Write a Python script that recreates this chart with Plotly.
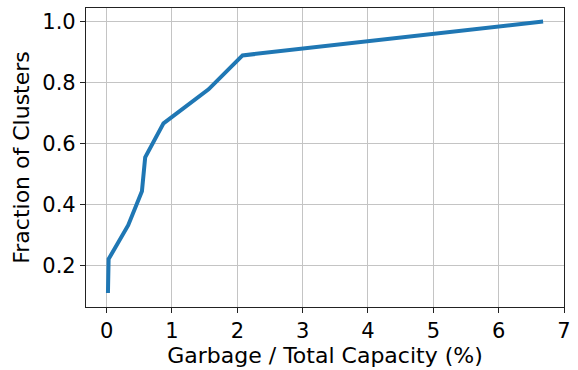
import plotly.graph_objects as go

garbage_pct = [0.02, 0.03, 0.33, 0.54, 0.59, 0.87, 1.56, 2.08, 6.68]
fraction = [1/9, 2/9, 3/9, 4/9, 5/9, 6/9, 7/9, 8/9, 1.0]
x_ticks = [0, 1, 2, 3, 4, 5, 6, 7]
y_ticks = [0.2, 0.4, 0.6, 0.8, 1.0]
y_tick_labels = ["0.2", "0.4", "0.6", "0.8", "1.0"]

fig = go.Figure()
fig.add_trace(go.Scatter(x=garbage_pct, y=fraction, mode="lines",
                         line=dict(color="#1f77b4", width=4)))

font = dict(family="DejaVu Sans", size=21, color="black")
tfont = dict(family="DejaVu Sans", size=22, color="black")
fig.update_layout(
    width=578, height=370,
    margin=dict(l=86, r=7, t=8, b=58),
    paper_bgcolor="white", plot_bgcolor="white",
    showlegend=False,
    font=font,
)
fig.update_xaxes(
    range=[-0.316, 7.0], tickvals=x_ticks,
    showgrid=True, gridcolor="#c4c4c4", gridwidth=1,
    showline=True, linecolor="#222", linewidth=1.2, mirror=True,
    ticks="outside", ticklen=5, tickcolor="#222", tickwidth=1,
    zeroline=False, tickfont=font,
    title=dict(text="Garbage / Total Capacity (%)", font=tfont, standoff=4),
)
fig.update_yaxes(
    range=[0.0655, 1.044], tickvals=y_ticks, ticktext=y_tick_labels,
    showgrid=True, gridcolor="#c4c4c4", gridwidth=1,
    showline=True, linecolor="#222", linewidth=1.2, mirror=True,
    ticks="outside", ticklen=5, tickcolor="#222", tickwidth=1,
    zeroline=False, tickfont=font,
    title=dict(text="Fraction of Clusters", font=tfont, standoff=6),
)
fig.write_html("out.html")
